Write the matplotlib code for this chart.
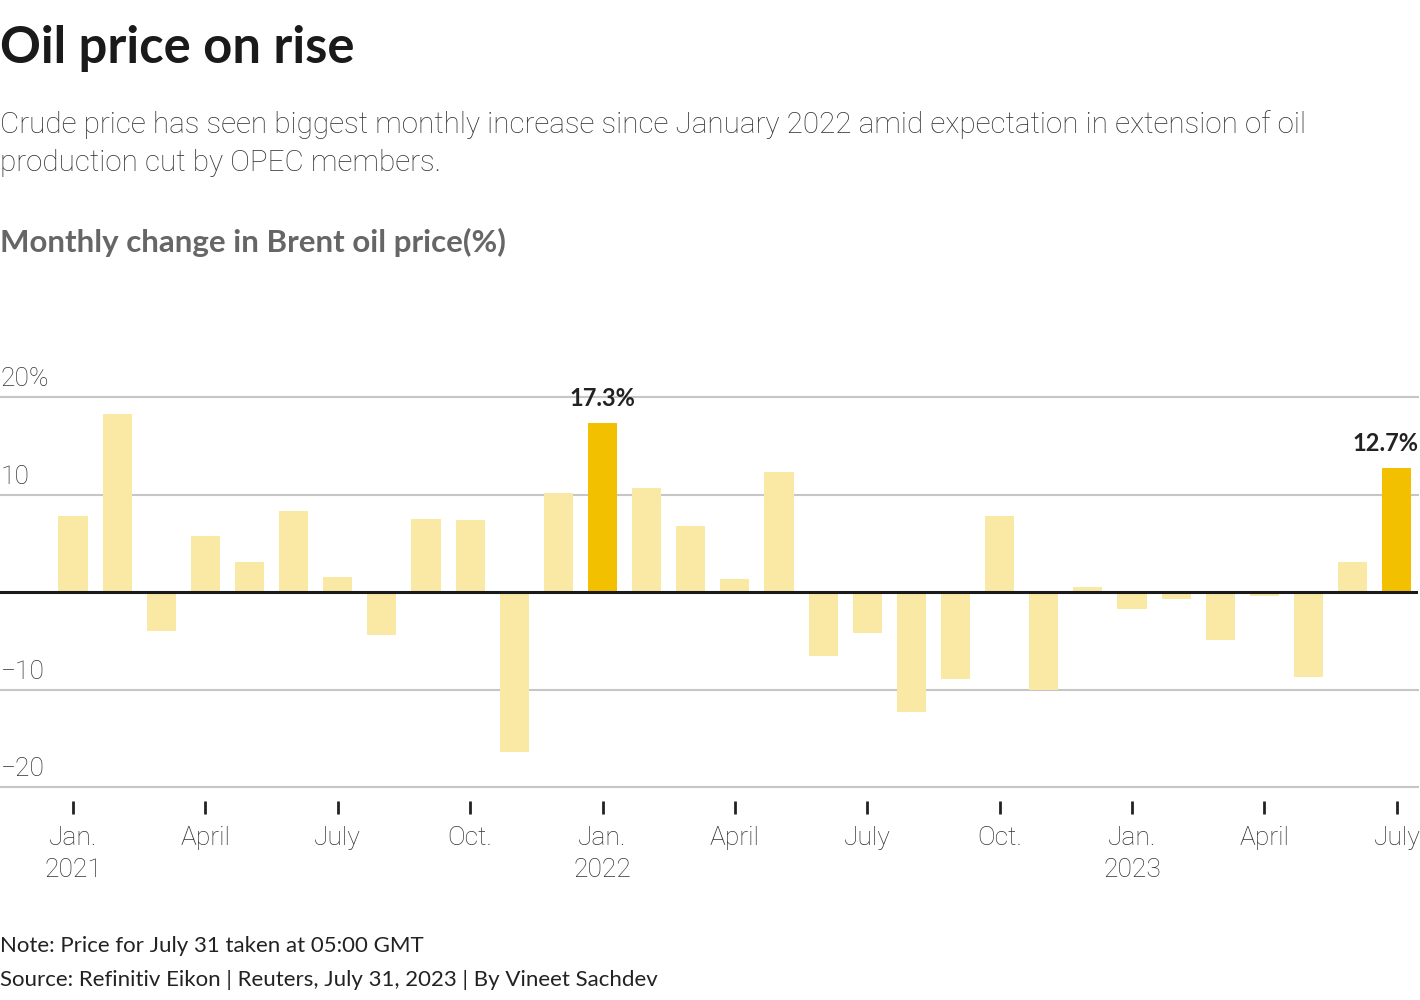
import matplotlib.pyplot as plt
import matplotlib.transforms as mtransforms
import numpy as np

plt.rcParams['font.family'] = ['Lato', 'DejaVu Sans']
LIGHT_FONT = ['Roboto', 'DejaVu Sans']

# monthly change in Brent oil price (%), Jan 2021 .. Jul 2023
months = ['2021-01', '2021-02', '2021-03', '2021-04', '2021-05', '2021-06',
          '2021-07', '2021-08', '2021-09', '2021-10', '2021-11', '2021-12',
          '2022-01', '2022-02', '2022-03', '2022-04', '2022-05', '2022-06',
          '2022-07', '2022-08', '2022-09', '2022-10', '2022-11', '2022-12',
          '2023-01', '2023-02', '2023-03', '2023-04', '2023-05', '2023-06',
          '2023-07']
change = [7.8, 18.3, -4.0, 5.7, 3.1, 8.3, 1.5, -4.4, 7.5, 7.4, -16.4, 10.2,
          17.3, 10.7, 6.8, 1.3, 12.3, -6.6, -4.2, -12.3, -8.9, 7.8, -10.1, 0.5,
          -1.7, -0.7, -4.9, -0.4, -8.7, 3.1, 12.7]
highlight = ['2022-01', '2023-07']

tick_pos = [0, 3, 6, 9, 12, 15, 18, 21, 24, 27, 30]
tick_labels = ['Jan.\n2021', 'April', 'July', 'Oct.', 'Jan.\n2022', 'April',
               'July', 'Oct.', 'Jan.\n2023', 'April', 'July']
y_ticks = [20, 10, -10, -20]
y_labels = ['20%', '10', '\u221210', '\u221220']

light = '#FAE8A5'
dark = '#F3C000'

fig = plt.figure(figsize=(14.2, 10), dpi=100)
ax = fig.add_axes([0.0, 0.213, 0.9986, 0.39])

# spine position first: it resets the ticks
for s in ['top', 'left', 'right']:
    ax.spines[s].set_visible(False)
ax.spines['bottom'].set_position(('outward', 10))
ax.spines['bottom'].set_visible(False)

x = np.arange(len(months))
colors = [dark if m in highlight else light for m in months]
ax.bar(x, change, width=0.66, color=colors, zorder=2)

ax.set_xlim(-1.654, 30.48)
ax.set_ylim(-20, 20)

for m, v in zip(months, change):
    if m in highlight:
        i = months.index(m)
        if i == len(months) - 1:
            ax.text(ax.get_xlim()[1], v + 1.4, f'{v}%', ha='right', va='bottom',
                    fontsize=17, fontweight='bold', color='#222222')
        else:
            ax.text(i, v + 1.4, f'{v}%', ha='center', va='bottom',
                    fontsize=17, fontweight='bold', color='#222222')

trans = mtransforms.blended_transform_factory(ax.transAxes, ax.transData)
for t, lab in zip(y_ticks, y_labels):
    ax.axhline(t, color='#c6c6c6', lw=1.5, zorder=1, clip_on=False)
    ax.text(0.0005, t + 0.6, lab, transform=trans, ha='left', va='bottom',
            fontsize=19, fontweight='light', family=LIGHT_FONT, color='#333333')
ax.axhline(0, color='#1a1a1a', lw=2.2, zorder=3)

ax.set_yticks([])
ax.set_xticks(tick_pos)
ax.tick_params(axis='x', length=9, width=2, color='#222222', pad=9)
ax.set_xticklabels(tick_labels, fontsize=19, fontweight='light', family=LIGHT_FONT,
                   color='#333333', linespacing=1.45)

fig.text(0.0, 0.952, 'Oil price on rise', fontsize=36.5, fontweight='bold',
         color='#1a1a1a', va='center')
fig.text(0.0, 0.856, 'Crude price has seen biggest monthly increase since January 2022 '
         'amid expectation in extension of oil\nproduction cut by OPEC members.',
         fontsize=21.3, fontweight='light', family=LIGHT_FONT, color='#333333',
         va='center', linespacing=1.45)
fig.text(0.0, 0.758, 'Monthly change in Brent oil price(%)', fontsize=22.5,
         fontweight='bold', color='#666666', va='center')
fig.text(0.0, 0.054, 'Note: Price for July 31 taken at 05:00 GMT', fontsize=16,
         color='#222222', va='center')
fig.text(0.0, 0.020, 'Source: Refinitiv Eikon | Reuters, July 31, 2023 | By Vineet Sachdev',
         fontsize=16, color='#222222', va='center')

fig.savefig('out.png', dpi=100)
